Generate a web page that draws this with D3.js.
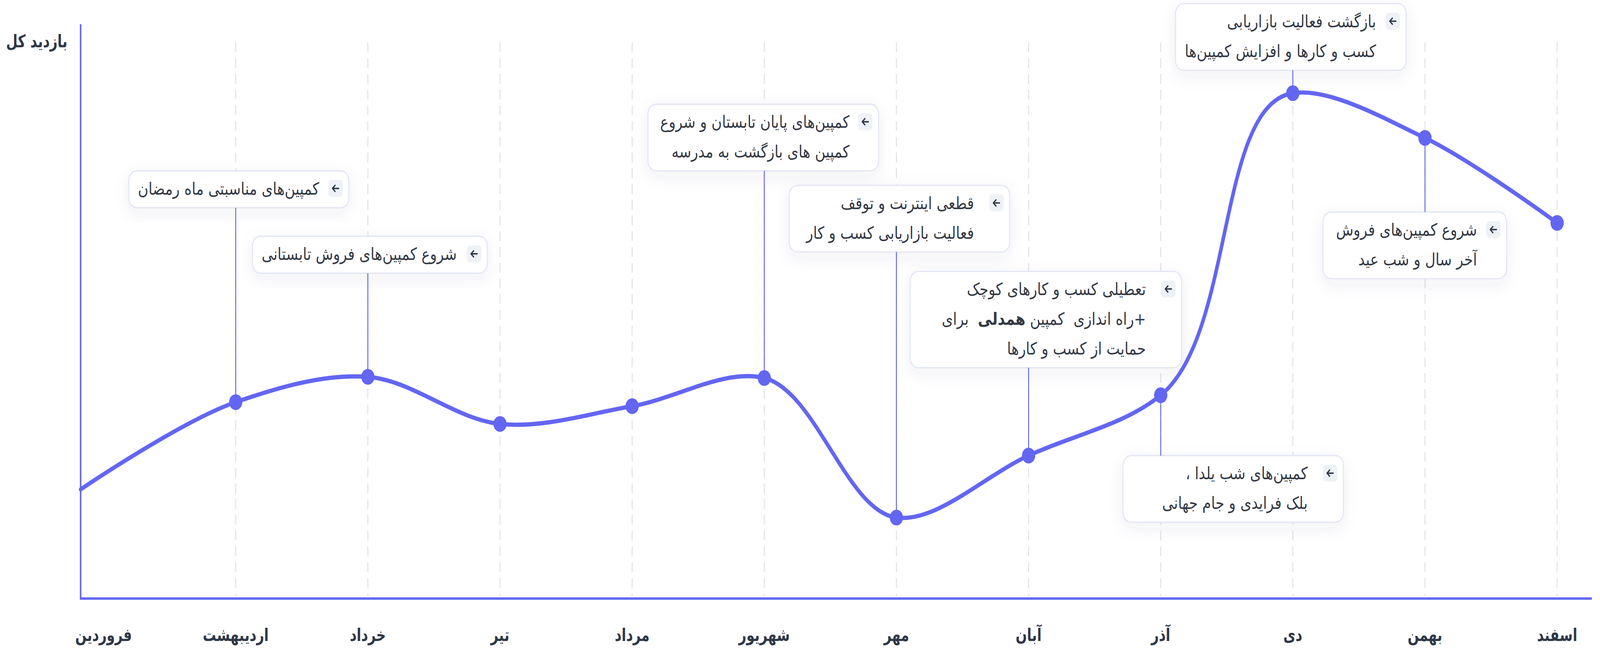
<!DOCTYPE html>
<html lang="fa">
<head>
  <meta charset="UTF-8">
  <title>بازدید کل</title>
  <script src="https://cdn.jsdelivr.net/npm/d3@7"></script>
  <style>
    html, body { margin: 0; padding: 0; background: #fff; width: 100%; height: 100%; overflow: hidden; }
    svg { display: block; width: 100vw; height: 100vh; }
    text { font-family: "DejaVu Sans", "Noto Sans", sans-serif; white-space: pre; }
    .axis-label { font-family: "DejaVu Sans Condensed", "DejaVu Sans", sans-serif; }
  </style>
</head>
<body>
  <svg id="chart"></svg>

  <script>
    // months (Persian calendar) and total visits per month
    const months = ['فروردین', 'اردیبهشت', 'خرداد', 'تیر', 'مرداد', 'شهریور',
                    'مهر', 'آبان', 'آذر', 'دی', 'بهمن', 'اسفند']
    const visits = [19, 34.2, 38.6, 30.4, 33.5, 38.4, 14.1, 24.9, 35.4, 88, 80.2, 65.4]

    // annotations: which month they point at and their text lines (*bold*)
    const noteMonths = ['اردیبهشت', 'خرداد', 'شهریور', 'مهر', 'آبان', 'آذر', 'دی', 'بهمن']
    const noteTexts = [
      ['کمپین‌های مناسبتی ماه رمضان'],
      ['شروع کمپین‌های فروش تابستانی'],
      ['کمپین‌های پایان تابستان و شروع', 'کمپین های بازگشت به مدرسه'],
      ['قطعی اینترنت و توقف', 'فعالیت بازاریابی کسب و کار'],
      ['تعطیلی کسب و کارهای کوچک', '+راه اندازی  کمپین *همدلی*  برای', 'حمایت از کسب و کارها'],
      ['کمپین‌های شب یلدا ،', 'بلک فرایدی و جام جهانی'],
      ['بازگشت فعالیت بازاریابی', 'کسب و کارها و افزایش کمپین‌ها'],
      ['شروع کمپین‌های فروش', 'آخر سال و شب عید']
    ]
    // note box layout: top edge, shift of box centre from its point, width, right text gap
    const noteTop = [141, 195, 86, 153, 224, 376, 3, 175]
    const noteShift = [3, 2, -1, 3, 17, 71, -2, -10]
    const noteWidth = [214, 230, 226, 216, 266, 216, 226, 180]
    const noteGap = [29, 30, 28.5, 35, 35, 35, 29.5, 29]

    const yTitle = 'بازدید کل'

    // layout units (the picture is this scaled up ~3.1x)
    const W = 1568, H = 536.45
    const margin = { top: 20, right: 8, bottom: 42.45, left: 79 }
    const plotBottom = H - margin.bottom
    const plotRight = W - margin.right

    const blue = '#6366f1'
    const ink = '#2f3848'

    const svg = d3.select('#chart')
      .attr('viewBox', `0 0 ${W} ${H}`)
      .attr('preserveAspectRatio', 'none')

    const defs = svg.append('defs')
    const shadow = defs.append('filter').attr('id', 'shadow')
      .attr('x', '-20%').attr('y', '-40%').attr('width', '140%').attr('height', '180%')
    shadow.append('feDropShadow')
      .attr('dx', 0).attr('dy', 4).attr('stdDeviation', 7)
      .attr('flood-color', '#3a4270').attr('flood-opacity', 0.07)

    // x: point scale, first month label sits a bit right of the axis
    const x = d3.scalePoint()
      .domain(months)
      .range([margin.left + 22.5, 1526])

    const y = d3.scaleLinear()
      .domain([0, 100])
      .range([plotBottom, margin.top])

    // the line itself starts on the y axis
    const px = (m, i) => i === 0 ? margin.left : x(m)

    // dashed grid
    svg.append('g')
      .selectAll('line')
      .data(months.slice(1))
      .join('line')
      .attr('x1', d => x(d)).attr('x2', d => x(d))
      .attr('y1', 35).attr('y2', plotBottom - 2)
      .attr('stroke', '#e3e3e6')
      .attr('stroke-width', 1)
      .attr('stroke-dasharray', '8 5')

    // axes
    svg.append('line')
      .attr('x1', margin.left).attr('x2', margin.left)
      .attr('y1', margin.top).attr('y2', plotBottom)
      .attr('stroke', blue).attr('stroke-width', 1.5)
    svg.append('line')
      .attr('x1', margin.left - 0.75).attr('x2', plotRight)
      .attr('y1', plotBottom).attr('y2', plotBottom)
      .attr('stroke', blue).attr('stroke-width', 2)

    svg.append('g')
      .selectAll('text')
      .data(months)
      .join('text')
      .attr('class', 'axis-label')
      .attr('x', d => x(d))
      .attr('y', plotBottom + 35)
      .attr('text-anchor', 'middle')
      .attr('font-size', 14.5)
      .attr('font-weight', 'bold')
      .attr('fill', ink)
      .text(d => d)

    svg.append('text')
      .attr('class', 'axis-label')
      .attr('x', 36).attr('y', 39)
      .attr('text-anchor', 'middle')
      .attr('font-size', 14.5)
      .attr('font-weight', 'bold')
      .attr('fill', ink)
      .text(yTitle)

    // annotation boxes
    const notes = noteMonths.map((m, i) => ({
      month: m,
      lines: noteTexts[i],
      top: noteTop[i],
      shift: noteShift[i],
      width: noteWidth[i],
      gap: noteGap[i],
      px: x(m),
      py: y(visits[months.indexOf(m)])
    }))

    const lineH = 24.5
    const noteG = svg.append('g')

    notes.forEach(n => {
      const g = noteG.append('g')
      const rect = g.append('rect')
      const txt = g.append('g')
      let maxW = 0
      n.lines.forEach((line, j) => {
        const t = txt.append('text')
          .attr('direction', 'rtl')
          .attr('text-anchor', 'start')
          .attr('y', n.top + 19.5 + j * lineH)
          .attr('font-size', 14)
          .attr('fill', '#343a46')
        line.split('*').forEach((part, k) => {
          t.append('tspan')
            .attr('font-weight', k % 2 ? 'bold' : null)
            .text(part)
        })
        maxW = Math.max(maxW, t.node().getComputedTextLength())
      })
      const w = Math.max(n.width, maxW + 9 + n.gap)
      const h = 6 + lineH * n.lines.length
      const left = n.px + n.shift - w / 2
      const right = left + w
      n.boxTop = n.top
      n.boxBottom = n.top + h

      rect.attr('x', left).attr('y', n.top)
        .attr('width', w).attr('height', h)
        .attr('rx', 8)
        .attr('fill', '#fff')
        .attr('stroke', '#e2e5f4')
        .attr('stroke-width', 1)
        .attr('filter', 'url(#shadow)')
      txt.selectAll('text').attr('x', right - n.gap)

      // arrow chip
      const ax = right - 20, ay = n.top + 7.5
      g.append('rect')
        .attr('x', ax).attr('y', ay).attr('width', 14).attr('height', 14)
        .attr('rx', 3).attr('fill', '#eef1f6')
      g.append('path')
        .attr('d', `M${ax + 10},${ay + 7} H${ax + 4} M${ax + 6.5},${ay + 4.5} L${ax + 4},${ay + 7} L${ax + 6.5},${ay + 9.5}`)
        .attr('fill', 'none')
        .attr('stroke', ink)
        .attr('stroke-width', 1.2)
        .attr('stroke-linecap', 'round')
        .attr('stroke-linejoin', 'round')
    })

    // leader lines from point to box
    svg.append('g')
      .selectAll('line')
      .data(notes)
      .join('line')
      .attr('x1', d => d.px).attr('x2', d => d.px)
      .attr('y1', d => d.py)
      .attr('y2', d => d.boxTop > d.py ? d.boxTop : d.boxBottom)
      .attr('stroke', blue)
      .attr('stroke-width', 0.9)

    // the curve
    const line = d3.line()
      .x((d, i) => px(months[i], i))
      .y(d => y(d))
      .curve(d3.curveCatmullRom.alpha(1))

    svg.append('path')
      .datum(visits)
      .attr('d', line)
      .attr('fill', 'none')
      .attr('stroke', blue)
      .attr('stroke-width', 3.5)
      .attr('stroke-linecap', 'round')

    svg.append('g')
      .selectAll('circle')
      .data(visits.slice(1))
      .join('circle')
      .attr('cx', (d, i) => x(months[i + 1]))
      .attr('cy', d => y(d))
      .attr('r', 6.5)
      .attr('fill', blue)
  </script>
</body>
</html>
